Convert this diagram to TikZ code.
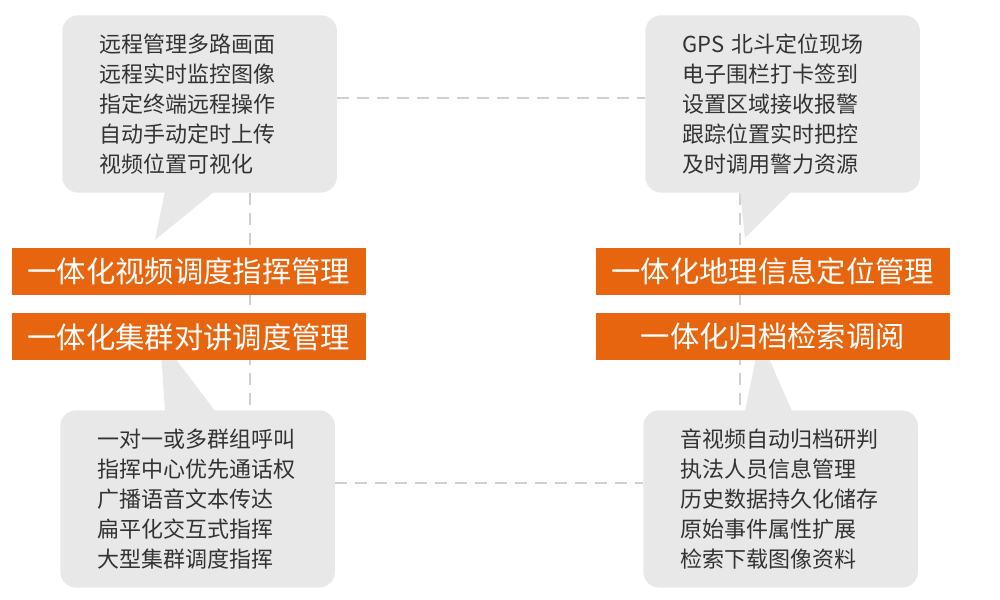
\documentclass[tikz,border=0pt]{standalone}
\usepackage{fontspec}
\setmainfont{Noto Sans CJK SC}
\usetikzlibrary{positioning,calc}
\definecolor{bubblegray}{HTML}{E8E8E8}
\definecolor{barorange}{HTML}{E8650F}
\definecolor{textgray}{HTML}{333333}
\definecolor{dashgray}{HTML}{D0D0D0}
\tikzset{
  bubble/.style={fill=bubblegray, rounded corners=12pt, minimum width=203pt, minimum height=133pt, inner xsep=28pt, align=left, text=textgray, font=\fontsize{16.5}{22.5}\selectfont, text width=150pt},
  bar/.style={fill=barorange, text=white, minimum width=265pt, minimum height=35pt, font=\fontsize{22}{26}\selectfont},
  guide/.style={dashgray, dashed, dash pattern=on 9pt off 6pt, line width=0.9pt},
}
\begin{document}
\begin{tikzpicture}[x=0.75pt,y=-0.75pt]
  \useasboundingbox (0,0) rectangle (1000,600);
  \coordinate (lx) at (250,0);
  \coordinate (rx) at (740,0);
  % bubbles
  \node[bubble, anchor=north west] (tl) at (62,15) {远程管理多路画面\\远程实时监控图像\\指定终端远程操作\\自动手动定时上传\\视频位置可视化};
  \node[bubble, anchor=north west] (tr) at (645,15) {GPS 北斗定位现场\\电子围栏打卡签到\\设置区域接收报警\\跟踪位置实时把控\\及时调用警力资源};
  \node[bubble, anchor=north west] (bl) at (60,410) {一对一或多群组呼叫\\指挥中心优先通话权\\广播语音文本传达\\扁平化交互式指挥\\大型集群调度指挥};
  \node[bubble, anchor=north west] (br) at (643,410) {音视频自动归档研判\\执法人员信息管理\\历史数据持久化储存\\原始事件属性扩展\\检索下载图像资料};
  % guides
  \draw[guide] (tl.east |- 0,98) -- (tr.west |- 0,98);
  \draw[guide] (bl.east |- 0,483) -- (br.west |- 0,483);
  \draw[guide] (tl.south -| lx) -- (bl.north -| lx);
  \draw[guide] (tr.south -| rx) -- (br.north -| rx);
  % tails
  \fill[bubblegray] (165,191) -- (155,240) -- (215,191) -- cycle;
  \fill[bubblegray] (740,191) -- (745,238) -- (792,191) -- cycle;
  \fill[bubblegray] (165,411) -- (160,338) -- (215,411) -- cycle;
  \fill[bubblegray] (745,411) -- (760,338) -- (792,411) -- cycle;
  % bars
  \node[bar, anchor=north west] (v1) at (12,248) {一体化视频调度指挥管理};
  \node[bar, below=13.5pt of v1] (v2) {一体化集群对讲调度管理};
  \node[bar, anchor=north west] (g1) at (596,248) {一体化地理信息定位管理};
  \node[bar, below=13.5pt of g1] (g2) {一体化归档检索调阅};
\end{tikzpicture}
\end{document}
